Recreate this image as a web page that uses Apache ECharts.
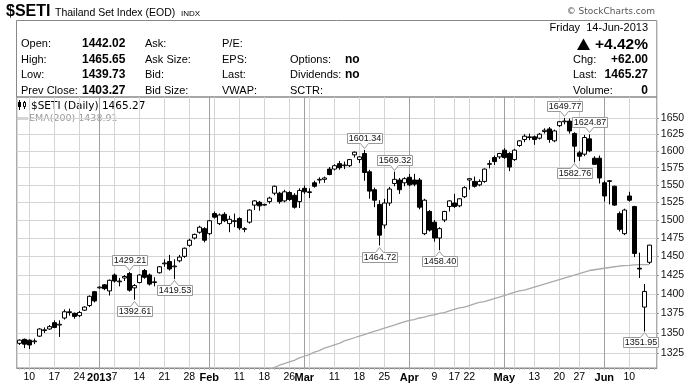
<!DOCTYPE html>
<html><head><meta charset="utf-8">
<script src="https://cdn.jsdelivr.net/npm/echarts@6/dist/echarts.min.js"></script>
<style>html,body{margin:0;padding:0;background:#fff;}#c{width:700px;height:385px;}</style>
</head><body><div id="c"></div>
<script>
const dates = [
'2012-12-06','2012-12-07','2012-12-10','2012-12-11','2012-12-12','2012-12-13','2012-12-14',
'2012-12-17','2012-12-18','2012-12-19','2012-12-20','2012-12-21',
'2012-12-24','2012-12-25','2012-12-26','2012-12-27',
'2013-01-02','2013-01-03','2013-01-04',
'2013-01-07','2013-01-08','2013-01-09','2013-01-10','2013-01-11',
'2013-01-14','2013-01-15','2013-01-16','2013-01-17','2013-01-18',
'2013-01-21','2013-01-22','2013-01-23','2013-01-24','2013-01-25',
'2013-01-28','2013-01-29','2013-01-30','2013-01-31',
'2013-02-01',
'2013-02-04','2013-02-05','2013-02-06','2013-02-07','2013-02-08',
'2013-02-11','2013-02-12','2013-02-13','2013-02-14','2013-02-15',
'2013-02-18','2013-02-19','2013-02-20','2013-02-21','2013-02-22',
'2013-02-26','2013-02-27','2013-02-28',
'2013-03-01',
'2013-03-04','2013-03-05','2013-03-06','2013-03-07','2013-03-08',
'2013-03-11','2013-03-12','2013-03-13','2013-03-14','2013-03-15',
'2013-03-18','2013-03-19','2013-03-20','2013-03-21','2013-03-22',
'2013-03-25','2013-03-26','2013-03-27','2013-03-28','2013-03-29',
'2013-04-01','2013-04-02','2013-04-03','2013-04-04','2013-04-05',
'2013-04-09','2013-04-10','2013-04-11','2013-04-12',
'2013-04-17','2013-04-18','2013-04-19',
'2013-04-22','2013-04-23','2013-04-24','2013-04-25','2013-04-26',
'2013-04-29','2013-04-30',
'2013-05-02','2013-05-03',
'2013-05-07','2013-05-08','2013-05-09','2013-05-10',
'2013-05-13','2013-05-14','2013-05-15','2013-05-16','2013-05-17',
'2013-05-20','2013-05-21','2013-05-22','2013-05-23',
'2013-05-27','2013-05-28','2013-05-29','2013-05-30','2013-05-31',
'2013-06-03','2013-06-04','2013-06-05','2013-06-06','2013-06-07',
'2013-06-10','2013-06-11','2013-06-12','2013-06-13','2013-06-14'
];
const opens = [
1337,1342,1341,1339,1346,1353,1355,1363,1360,1369,
1376,1375,1372,1379,1385,1403,1408,1412,1404,1425,
1416,1421,1427,1408,1415,1431,1425,1415,1428,1440,
1443,1436,1444,1450,1465,1475,1483,1488,1481,1509,
1495,1508,1495,1498,1502,1487,1497,1521,1525,1521,
1526,1538,1538,1527,1539,1535,1526,1545,1539,1553,
1557,1558,1573,1573,1581,1578,1578,1594,1587,1596,
1569,1543,1522,1493,1524,1552,1557,1553,1561,1557,
1557,1481,1512,1497,1475,1500,1519,1524,1520,1533,
1557,1555,1550,1555,1580,1590,1591,1601,1596,1587,
1608,1617,1620,1621,1619,1629,1633,1615,1638,1644,
1645,1626,1597,1595,1618,1589,1589,1553,1555,1548,
1509,1481,1534,1519,1434,1383,1442.02];
const highs = [
1342,1343,1342,1343,1356,1357,1360,1366,1366,1380,
1381,1376,1378,1384,1398,1404,1410,1413,1419,1427,
1421,1425,1429.21,1413,1426,1433,1427,1422,1437,1446,
1452,1446,1452,1462,1474,1481,1492,1490,1500,1512,
1509,1511,1506,1509,1504,1490,1515,1528,1527,1523,
1533,1549,1540,1543,1541,1538,1545,1549,1545,1556,
1561,1562,1576,1580,1585,1584,1588,1599,1592,1601.34,
1572,1546,1528,1530,1547,1569.32,1560,1561,1566,1566,
1560,1530,1514,1500,1490,1513,1528,1537,1531,1548,
1560,1562,1558,1574,1586,1593,1597,1604,1598,1603,
1616,1625,1626,1623,1627,1634,1636,1632,1645,1649.77,
1649,1628,1600,1624,1624.87,1592,1593,1556,1557,1549,
1512,1516,1540,1520,1455,1413,1465.65];
const lows = [
1335,1331,1330,1336,1345,1350,1354,1356,1345,1367,
1372,1368,1370,1378,1383,1389,1407,1405,1398,1415,
1410,1417,1403,1392.61,1414,1420,1411,1410,1427,1436,
1431,1419.53,1442,1448,1463,1473,1481,1469,1479,1502,
1493,1497,1483,1490,1486,1483,1495,1514,1513,1520,
1523,1535,1523,1525,1527,1516,1517,1537,1531,1546,
1552,1553,1564,1571,1572,1573,1576,1590,1582,1556,
1530,1518,1464.72,1488,1520,1548,1537,1548,1548,1548,
1515,1479,1484,1470,1458.40,1497,1512,1517,1518,1531,
1543,1546,1548,1553,1574,1579,1588,1588,1570,1585,
1606,1613,1616,1609,1617,1626,1612,1613,1636,1640,
1626,1582.76,1585,1592,1598,1579,1552,1526,1522,1520,
1484,1479,1526,1449,1421,1351.95,1439.73];
const closes = [
1341,1336,1335,1340,1355,1354,1358,1357,1361,1377,
1377,1371,1376,1383,1397,1391,1409,1407,1418,1417,
1417,1423,1405,1411,1425,1422,1413,1416,1436,1441,
1433,1437,1449,1461,1472,1480,1490,1472,1499,1504,
1507,1499,1501,1499,1489,1488,1514,1527,1520,1522,
1531,1548,1526,1540,1529,1518,1542,1540,1540,1548,
1558,1560,1565,1578,1575,1579,1587,1598,1591,1568,
1541,1528,1479,1524,1544,1558,1543,1559,1550,1551,
1518,1528,1486,1475,1488,1512,1527,1519,1530,1546,
1559,1548,1555,1573,1581,1584,1596,1590,1576,1601,
1615,1622,1621,1617,1625,1631,1617,1630,1644,1645,
1630,1607,1592,1620,1600,1580,1560,1534,1556,1521,
1487,1514,1528,1454,1433,1403.27,1465.27];
const ema200 = [
null,null,null,null,null,null,null,null,null,null,
null,null,null,null,null,null,null,null,null,null,
null,null,null,null,null,null,null,null,null,null,
null,null,null,null,null,null,null,null,null,null,
null,null,null,null,null,null,null,null,null,null,
1305,1307,1310,1312,1314,1316,1319,1321,1323,1326,
1328,1331,1333,1335,1337,1340,1342,1344,1346,1348,
1350,1352,1354,1356,1358,1360,1362,1364,1366,1367,
1369,1370,1372,1373,1375,1376,1378,1380,1382,1383,
1385,1387,1389,1390,1392,1394,1396,1398,1400,1402,
1404,1405,1407,1409,1411,1413,1415,1417,1419,1421,
1423,1425,1427,1429,1431,1432,1433,1434,1435,1436,
1437,1437.5,1438,1438.6,1438.9,1438.9,1438.91];
const yTicks = [1325,1350,1375,1400,1425,1450,1475,1500,1525,1550,1575,1600,1625,1650];
const monthNames = ['Jan','Feb','Mar','Apr','May','Jun','Jul','Aug','Sep','Oct','Nov','Dec'];
const annoIdx = [22,23,31,69,72,75,84,109,111,114,125];
const annoVal = [1429.21,1392.61,1419.53,1601.34,1464.72,1569.32,1458.40,1649.77,1582.76,1624.87,1351.95];
const annoSide = [1,-1,-1,1,-1,1,-1,1,-1,1,-1];

const Y_MIN = 1306.6, Y_MAX = 1682.4;
const cats = dates.concat(['']);
const ohlc = dates.map((d,i)=>[opens[i],closes[i],lows[i],highs[i]]);

const monthStarts = [], weekStarts = [];
for (let i = 1; i < dates.length; i++) {
  const d = new Date(dates[i]+'T00:00:00Z'), p = new Date(dates[i-1]+'T00:00:00Z');
  if (d.getUTCMonth() !== p.getUTCMonth()) monthStarts.push(i);
  else if (d.getUTCDay() <= p.getUTCDay() || (d-p) > 4*864e5) weekStarts.push(i);
}
const labelMap = {};
monthStarts.forEach(i=>{
  const d = new Date(dates[i]+'T00:00:00Z');
  labelMap[i] = '{b|' + (d.getUTCMonth()===0 ? String(d.getUTCFullYear()) : monthNames[d.getUTCMonth()]) + '}';
});
weekStarts.forEach(i=>{
  if (monthStarts.some(m=>Math.abs(m-i)<=2)) return;
  labelMap[i] = String(new Date(dates[i]+'T00:00:00Z').getUTCDate());
});
const gridData = weekStarts.map(i=>[i,1500,0]).concat(monthStarts.map(i=>[i,1500,1]));

const F = '"Liberation Sans", Arial, sans-serif';
const chart = echarts.init(document.getElementById('c'), null, {renderer:'canvas'});
const rowY = [44, 59.5, 75, 90.5];
function T(x,y,text,opt){ return {type:'text', x:x, y:y, silent:true, style:Object.assign({text:text, font:'11px '+F, fill:'#000', verticalAlign:'middle', align:'left'}, opt||{})}; }
const graphics = [
  T(6,12,'$SETI',{font:'bold 16px '+F}),
  T(55,13,'Thailand Set Index (EOD)',{font:'10.5px '+F}),
  T(181,13.5,'INDX',{font:'8px '+F}),
  T(655,12,'© StockCharts.com',{font:'9px "DejaVu Sans", sans-serif', fill:'#555', align:'right'}),
  {type:'rect', silent:true, shape:{x:16.5,y:20.5,width:640.3,height:76.5}, style:{fill:'none', stroke:'#888', lineWidth:1}},
  T(21,rowY[0],'Open:'), T(82,rowY[0],'1442.02',{font:'bold 12px '+F}),
  T(21,rowY[1],'High:'), T(82,rowY[1],'1465.65',{font:'bold 12px '+F}),
  T(21,rowY[2],'Low:'), T(82,rowY[2],'1439.73',{font:'bold 12px '+F}),
  T(21,rowY[3],'Prev Close:'), T(82,rowY[3],'1403.27',{font:'bold 12px '+F}),
  T(145,rowY[0],'Ask:'), T(145,rowY[1],'Ask Size:'), T(145,rowY[2],'Bid:'), T(145,rowY[3],'Bid Size:'),
  T(222,rowY[0],'P/E:'), T(222,rowY[1],'EPS:'), T(222,rowY[2],'Last:'), T(222,rowY[3],'VWAP:'),
  T(290,rowY[1],'Options:'), T(345,rowY[1],'no',{font:'bold 12px '+F}),
  T(290,rowY[2],'Dividends:'), T(345,rowY[2],'no',{font:'bold 12px '+F}),
  T(290,rowY[3],'SCTR:'),
  T(648,28,'Friday  14-Jun-2013',{align:'right'}),
  {type:'polygon', silent:true, shape:{points:[[577,50],[590,50],[583.5,38.5]]}, style:{fill:'#000'}},
  T(648,rowY[0]+0.5,'+4.42%',{font:'bold 15.5px '+F, align:'right'}),
  T(573,rowY[1],'Chg:'), T(648,rowY[1],'+62.00',{font:'bold 12px '+F, align:'right'}),
  T(573,rowY[2],'Last:'), T(648,rowY[2],'1465.27',{font:'bold 12px '+F, align:'right'}),
  T(573,rowY[3],'Volume:'), T(648,rowY[3],'0',{font:'bold 12px '+F, align:'right'}),
  {type:'line', silent:true, shape:{x1:19.5,y1:100,x2:19.5,y2:110}, style:{stroke:'#000',lineWidth:1}},
  {type:'rect', silent:true, shape:{x:18,y:102,width:3,height:5}, style:{fill:'#000'}},
  {type:'line', silent:true, shape:{x1:24.5,y1:101,x2:24.5,y2:109}, style:{stroke:'#000',lineWidth:1}},
  {type:'rect', silent:true, shape:{x:23.5,y:102.5,width:2,height:4}, style:{fill:'#fff',stroke:'#000',lineWidth:1}},
  T(31,106,'$SETI (Daily) 1465.27',{font:'10.5px "DejaVu Sans", sans-serif'}),
  {type:'line', silent:true, shape:{x1:17,y1:118.5,x2:28,y2:118.5}, style:{stroke:'#aaa',lineWidth:2}},
  T(29,118.5,'EMA(200) 1438.91',{font:'9.5px "DejaVu Sans", sans-serif', fill:'#999'})
];

const option = {
  animation:false,
  backgroundColor:'#fff',
  grid:{left:16.8, right:43.2, top:97, bottom:17, show:true, borderColor:'#888', borderWidth:1, backgroundColor:'#fff'},
  xAxis:{type:'category', data:cats, boundaryGap:true,
    axisLine:{show:true, lineStyle:{color:'#888'}},
    axisTick:{show:true, interval:0, alignWithLabel:true, length:2, lineStyle:{color:'#bbb'}},
    axisLabel:{interval:(i)=>labelMap[i]!==undefined, formatter:(v,i)=>labelMap[i]||'', margin:4,
      fontFamily:'Liberation Sans', fontSize:10.5, color:'#000',
      rich:{b:{fontWeight:'bold', fontSize:11, fontFamily:'Liberation Sans', color:'#000'}}},
    splitLine:{show:false}},
  yAxis:{type:'log', logBase:10, min:Y_MIN, max:Y_MAX, position:'right',
    axisLine:{show:false},
    axisTick:{show:true, length:2, customValues:yTicks, lineStyle:{color:'#888'}},
    axisLabel:{customValues:yTicks, formatter:v=>String(Math.round(v)), margin:4, fontFamily:'Liberation Sans', fontSize:10.5, color:'#111'},
    splitLine:{show:true, lineStyle:{color:'#d4d4d4', width:1}}},
  series:[
    {type:'custom', z:1, silent:true, data:gridData, encode:{x:0,y:1},
      renderItem:(params,api)=>{
        const cs = params.coordSys;
        const x = Math.round(api.coord([api.value(0),1500])[0]-0.5)+0.5;
        return {type:'line', shape:{x1:x,y1:cs.y,x2:x,y2:cs.y+cs.height},
          style:{stroke: api.value(2)? '#a0a0a0':'#d4d4d4', lineWidth:1}};
      }},
    {type:'line', z:2, data:ema200, showSymbol:false, symbol:'none', clip:true, silent:true,
      lineStyle:{color:'#aaa', width:1.3}, connectNulls:false},
    {type:'candlestick', z:3, data:ohlc, barWidth:4, silent:true,
      itemStyle:{color:'#fff', color0:'#000', borderColor:'#000', borderColor0:'#000', borderWidth:1}},
    {type:'custom', z:4, silent:true, data:annoIdx.map((d,k)=>[d,annoVal[k],annoSide[k]]), encode:{x:0,y:1},
      renderItem:(params,api)=>{
        const p = api.coord([api.value(0), api.value(1)]);
        const up = api.value(2) > 0;
        const txt = annoVal[params.dataIndex].toFixed(2);
        const w = 35, h = 10, n = 4, gap = 5;
        const cx = Math.round(p[0]) + 0.5;
        let left = Math.round(cx - w/2) + 0.5;
        if (left + w > 658.5) left = 658.5 - w;
        const right = left + w;
        let pts, top;
        if (up) {
          const tip = Math.round(p[1]) - 1.5;
          const bottom = tip - gap;
          top = bottom - h;
          pts = [[left,top],[right,top],[right,bottom],[cx+n,bottom],[cx,tip],[cx-n,bottom],[left,bottom]];
        } else {
          const tip = Math.round(p[1]) + 1.5;
          top = tip + gap;
          const bottom = top + h;
          pts = [[left,top],[cx-n,top],[cx,tip],[cx+n,top],[right,top],[right,bottom],[left,bottom]];
        }
        return {type:'group', children:[
          {type:'polygon', shape:{points:pts}, style:{fill:'#fff', stroke:'#999', lineWidth:1}},
          {type:'text', style:{text:txt, x:left+w/2, y:top+h/2+0.5, align:'center', verticalAlign:'middle', font:'9px '+F, fill:'#111'}}
        ]};
      }}
  ],
  graphic:graphics
};
chart.setOption(option);
</script></body></html>
